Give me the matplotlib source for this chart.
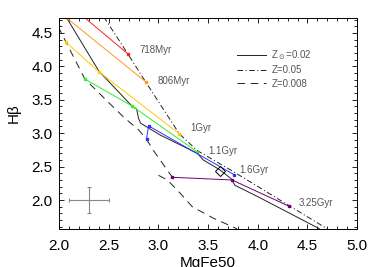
import numpy as np
import matplotlib.pyplot as plt

plt.rcParams['font.family'] = ['Liberation Sans', 'DejaVu Sans']
plt.rcParams['mathtext.fontset'] = 'dejavusans'
plt.rcParams['lines.scale_dashes'] = False

# model tracks (MgFe50, Hbeta)
z02_x = [2.07, 2.40, 2.73, 2.78, 2.80, 2.82, 3.02, 3.39, 3.45, 3.62, 3.73, 3.77, 4.00, 4.62]
z02_y = [4.74, 3.93, 3.41, 3.36, 3.22, 3.15, 2.97, 2.70, 2.60, 2.45, 2.32, 2.22, 2.05, 1.57]

z05_x = [2.45, 2.69, 2.87, 3.21, 3.39, 3.76, 4.31, 4.72]
z05_y = [4.74, 4.19, 3.77, 2.99, 2.74, 2.42, 1.92, 1.55]

z008_x = [1.99, 2.07, 2.26, 2.47, 2.65, 2.80, 2.88, 2.95, 3.14, np.nan, 3.00, 3.09, 3.22, 3.34, 3.55, 3.79]
z008_y = [4.60, 4.36, 3.81, 3.50, 3.24, 3.05, 2.91, 2.74, 2.34, np.nan, 2.37, 2.30, 2.10, 1.90, 1.73, 1.57]

# isochrones connecting the three metallicities
ages = ['718Myr', '806Myr', '1Gyr', '1.1Gyr', '1.6Gyr', '3.25Gyr']
iso_colors = ['#ff2020', '#ff9a20', '#ffcc00', '#30ee30', '#3030ff', '#700070']
iso_x = [[2.24, 2.69],
         [2.08, 2.87],
         [2.07, 2.40, 3.21],
         [2.26, 2.73, 3.39],
         [2.88, 2.90, 3.76],
         [3.14, 3.74, 4.31]]
iso_y = [[4.75, 4.19],
         [4.72, 3.77],
         [4.36, 3.92, 2.99],
         [3.81, 3.41, 2.72],
         [2.91, 3.11, 2.38],
         [2.34, 2.30, 1.91]]
label_x = [2.81, 2.99, 3.32, 3.50, 3.81, 4.41]
label_y = [4.24, 3.78, 3.08, 2.73, 2.45, 1.95]

# observed point and typical error
obs_x, obs_y = 3.62, 2.43
err_x, err_y = 2.3, 2.0
err_dx, err_dy = 0.2, 0.2

fig = plt.figure(figsize=(3.74, 2.67), dpi=100)
ax = fig.add_axes([0.158, 0.142, 0.797, 0.791])

l1, = ax.plot(z02_x, z02_y, '-', color='#222222', lw=0.7)
l2, = ax.plot(z05_x, z05_y, color='#222222', lw=0.7, dashes=(4, 1.8, 0.8, 1.8))
l3, = ax.plot(z008_x, z008_y, color='#222222', lw=0.7, dashes=(5.5, 4))

for xs, ys, c, lab, tx, ty in zip(iso_x, iso_y, iso_colors, ages, label_x, label_y):
    ax.plot(xs, ys, '-', color=c, lw=0.7, marker='s', ms=1.7, mec=c, mfc=c)
    ax.text(tx, ty, lab, fontsize=7, color='#555555', va='center', ha='left')

ax.plot(obs_x, obs_y, 'D', ms=5, mfc='none', mec='black', mew=0.7)
ax.errorbar(err_x, err_y, xerr=err_dx, yerr=err_dy, color='#888888',
            lw=0.8, capsize=1.5, capthick=0.8)

ax.legend([l1, l2, l3], [r'Z$_\odot$=0.02', 'Z=0.05', 'Z=0.008'],
          loc='upper left', bbox_to_anchor=(0.575, 0.89), frameon=False,
          fontsize=7, labelcolor='#555555', handlelength=3.0,
          handletextpad=0.5, labelspacing=0.35, borderpad=0.2)

ax.set_xlim(2.0, 5.0)
ax.set_ylim(1.565, 4.725)
ax.set_xticks([2.0, 2.5, 3.0, 3.5, 4.0, 4.5, 5.0])
ax.set_yticks([2.0, 2.5, 3.0, 3.5, 4.0, 4.5])
ax.set_xticks(np.arange(2.0, 5.01, 0.1), minor=True)
ax.set_yticks(np.arange(1.6, 4.71, 0.1), minor=True)
ax.tick_params(which='both', direction='in', top=True, right=True, width=0.6)
ax.tick_params(which='major', length=3.8, labelsize=11)
ax.tick_params(which='minor', length=2.0)
ax.tick_params(axis='x', which='major', pad=7)
ax.tick_params(axis='y', which='major', pad=4.5)
for s in ax.spines.values():
    s.set_linewidth(0.7)

ax.set_xlabel('MgFe50', fontsize=11, labelpad=2)
ax.set_ylabel('Hβ', fontsize=11)
ax.yaxis.set_label_coords(-0.13, 0.55)

fig.savefig('out.png', dpi=100)
